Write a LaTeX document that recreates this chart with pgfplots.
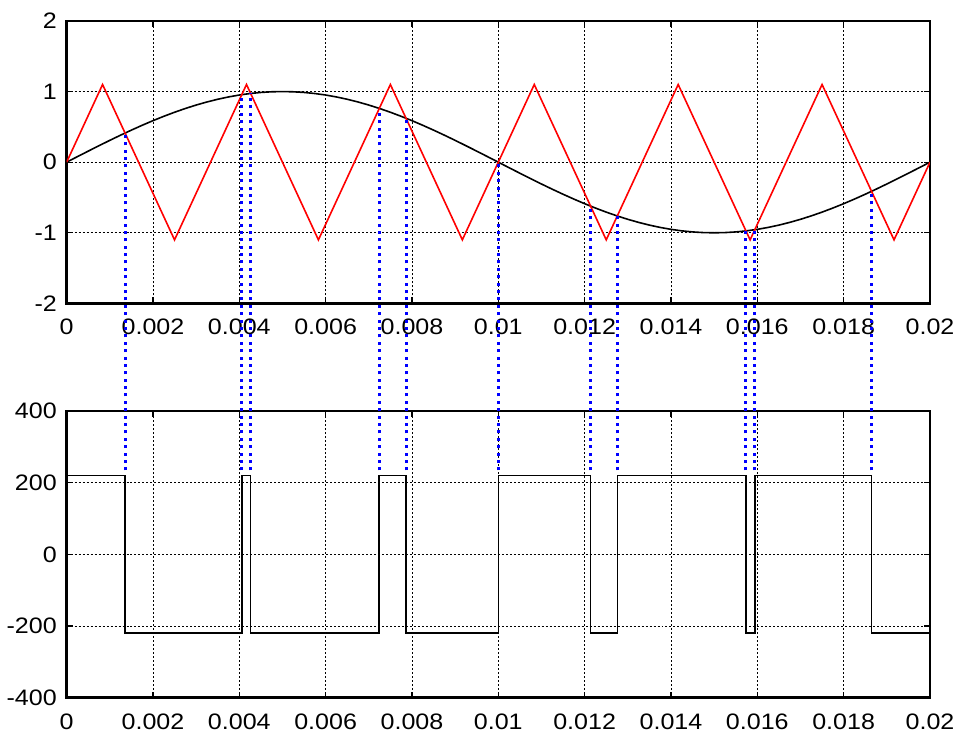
\documentclass[border=0pt]{standalone}
\usepackage{pgfplots}
\pgfplotsset{compat=1.18}
\usepackage{fontspec}
\setmainfont{Liberation Sans}[FakeStretch=1.12]
\begin{document}
\begin{tikzpicture}
\pgfplotsset{
  bluedot/.style={blue, line width=1.5pt, dash pattern=on 1.5pt off 2.2pt, mark=none},
  every axis/.append style={
    scale only axis, width=432.5pt,
    line width=1.2pt,
    xmin=0, xmax=0.02,
    xtick={0,0.002,0.004,0.006,0.008,0.01,0.012,0.014,0.016,0.018,0.02},
    xticklabels={0,0.002,0.004,0.006,0.008,0.01,0.012,0.014,0.016,0.018,0.02},
    scaled x ticks=false, scaled y ticks=false,
    grid=major,
    major grid style={black, line width=0.45pt, dash pattern=on 1pt off 1pt},
    axis line style={black, line width=1.2pt},
    tick style={black, line width=0.6pt},
    major tick length=3pt,
    tick align=inside,
    /pgf/number format/assume math mode=true,
    tick label style={font=\fontsize{11.2}{12}\selectfont},
    xticklabel style={yshift=-4pt},
    yticklabel style={xshift=-1pt},
  }
}
\path (0,349.5pt) (0,-19.5pt);
% ---------- top axis ----------
\begin{axis}[at={(0,197.5pt)}, height=141.5pt,
  ymin=-2, ymax=2, ytick={-2,-1,0,1,2}]
\addplot[black, line width=0.8pt, mark=none] coordinates {
(0,0) (0.00025,0.0785) (0.0005,0.1564) (0.00075,0.2334) (0.001,0.3090)
(0.00125,0.3827) (0.0015,0.4540) (0.00175,0.5225) (0.002,0.5878)
(0.00225,0.6494) (0.0025,0.7071) (0.00275,0.7604) (0.003,0.8090)
(0.00325,0.8526) (0.0035,0.8910) (0.00375,0.9239) (0.004,0.9511)
(0.00425,0.9724) (0.0045,0.9877) (0.00475,0.9969) (0.005,1)
(0.00525,0.9969) (0.0055,0.9877) (0.00575,0.9724) (0.006,0.9511)
(0.00625,0.9239) (0.0065,0.8910) (0.00675,0.8526) (0.007,0.8090)
(0.00725,0.7604) (0.0075,0.7071) (0.00775,0.6494) (0.008,0.5878)
(0.00825,0.5225) (0.0085,0.4540) (0.00875,0.3827) (0.009,0.3090)
(0.00925,0.2334) (0.0095,0.1564) (0.00975,0.0785) (0.01,0)
(0.01025,-0.0785) (0.0105,-0.1564) (0.01075,-0.2334) (0.011,-0.3090)
(0.01125,-0.3827) (0.0115,-0.4540) (0.01175,-0.5225) (0.012,-0.5878)
(0.01225,-0.6494) (0.0125,-0.7071) (0.01275,-0.7604) (0.013,-0.8090)
(0.01325,-0.8526) (0.0135,-0.8910) (0.01375,-0.9239) (0.014,-0.9511)
(0.01425,-0.9724) (0.0145,-0.9877) (0.01475,-0.9969) (0.015,-1)
(0.01525,-0.9969) (0.0155,-0.9877) (0.01575,-0.9724) (0.016,-0.9511)
(0.01625,-0.9239) (0.0165,-0.8910) (0.01675,-0.8526) (0.017,-0.8090)
(0.01725,-0.7604) (0.0175,-0.7071) (0.01775,-0.6494) (0.018,-0.5878)
(0.01825,-0.5225) (0.0185,-0.4540) (0.01875,-0.3827) (0.019,-0.3090)
(0.01925,-0.2334) (0.0195,-0.1564) (0.01975,-0.0785) (0.02,0)
};
\addplot[red, line width=0.8pt, mark=none] coordinates {
(0,0) (0.000833,1.1) (0.0025,-1.1) (0.004167,1.1) (0.005833,-1.1)
(0.0075,1.1) (0.009167,-1.1) (0.010833,1.1) (0.0125,-1.1)
(0.014167,1.1) (0.015833,-1.1) (0.0175,1.1) (0.019167,-1.1) (0.02,0)
};
\end{axis}
% ---------- bottom axis ----------
\begin{axis}[at={(0,0)}, height=143.5pt,
  ymin=-400, ymax=400, ytick={-400,-200,0,200,400}, clip=false]
\addplot[black, line width=0.8pt, const plot, mark=none] coordinates {
(0,220) (0.001354,-220) (0.004058,220) (0.004263,-220) (0.007243,220)
(0.007862,-220) (0.01,220) (0.012138,-220) (0.012757,220) (0.015737,-220)
(0.015942,220) (0.018646,-220) (0.02,-220)
};
\addplot[bluedot] coordinates {(0.001354,235) (0.001354,1176.9)};
\addplot[bluedot] coordinates {(0.004058,235) (0.004058,1284.2)};
\addplot[bluedot] coordinates {(0.004263,235) (0.004263,1287.4)};
\addplot[bluedot] coordinates {(0.007243,235) (0.007243,1245.7)};
\addplot[bluedot] coordinates {(0.007862,235) (0.007862,1218.2)};
\addplot[bluedot] coordinates {(0.01,235) (0.01,1095.5)};
\addplot[bluedot] coordinates {(0.012138,235) (0.012138,972.8)};
\addplot[bluedot] coordinates {(0.012757,235) (0.012757,945.3)};
\addplot[bluedot] coordinates {(0.015737,235) (0.015737,903.5)};
\addplot[bluedot] coordinates {(0.015942,235) (0.015942,906.8)};
\addplot[bluedot] coordinates {(0.018646,235) (0.018646,1014.1)};
\end{axis}
\end{tikzpicture}
\end{document}
